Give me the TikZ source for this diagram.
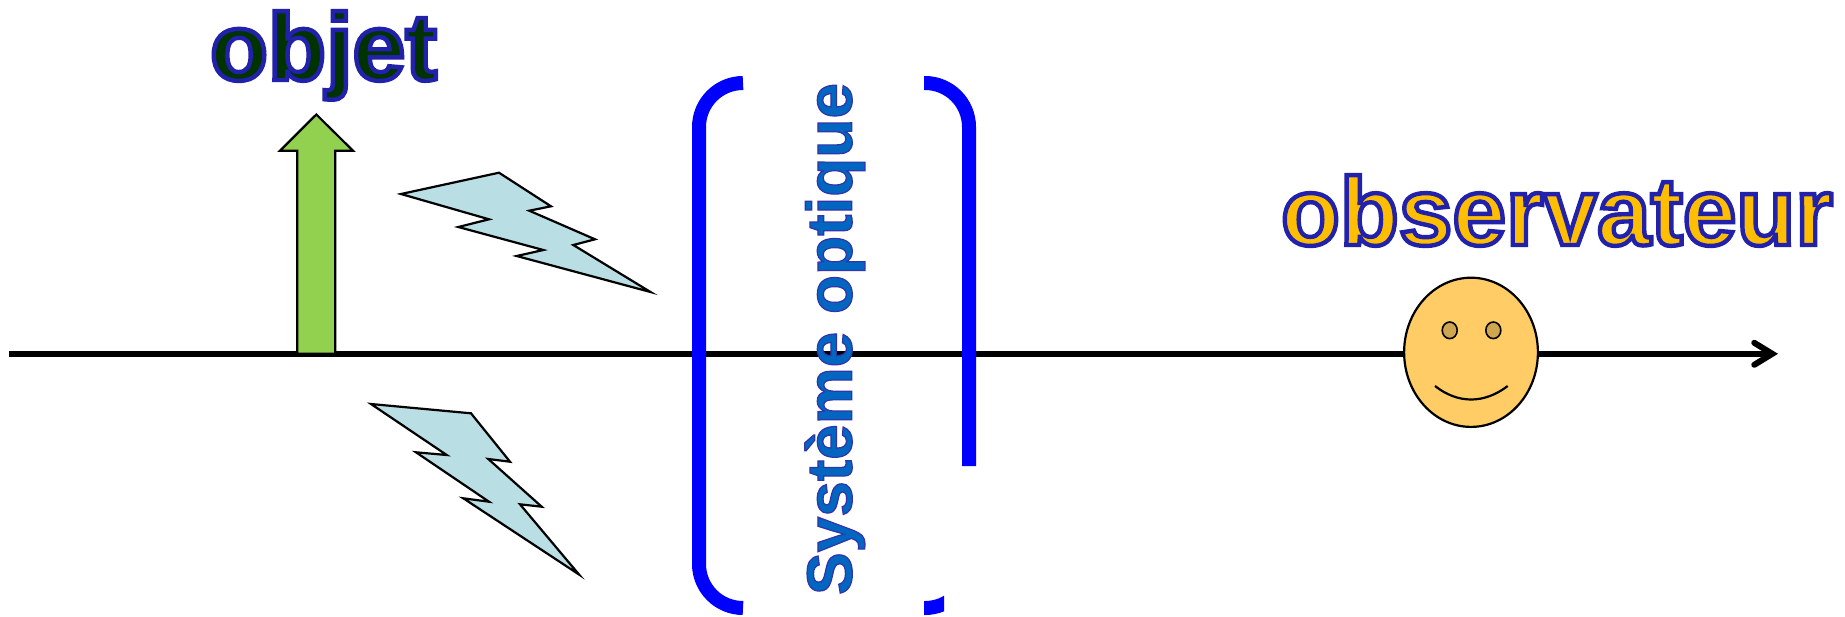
\documentclass[tikz,border=0pt]{standalone}
\usepackage{fontspec}
\setmainfont{Liberation Sans}
\usetikzlibrary{arrows.meta,shapes.geometric}
\newcommand{\outlinetext}[4]{\special{pdf:code q 2 Tr #3 w #1 RG #2 rg}#4\special{pdf:code Q}}
\definecolor{boltfill}{HTML}{B9DFE4}
\definecolor{arrowgreen}{HTML}{92D050}
\definecolor{facefill}{HTML}{FFCC66}
\definecolor{eyefill}{HTML}{CFA650}
\tikzset{
  x=0.5pt,y=-0.5pt,
  bolt/.style={draw=black,fill=boltfill,line width=1.1pt,line join=miter,miter limit=10},
  bracket/.style={draw=blue,line width=7pt,rounded corners=22pt,line cap=butt},
  label/.style={inner sep=0pt,outer sep=0pt,font=\bfseries},
  eye/.style={ellipse,draw=black,fill=eyefill,line width=0.8pt,minimum width=7.5pt,minimum height=8.3pt,inner sep=0pt},
}
\begin{document}
\begin{tikzpicture}
\useasboundingbox (0,0) rectangle (1845,616);
\coordinate (axisstart) at (9,353.8);
\coordinate (axisend) at (1778,353.8);
\draw[line width=3pt,-{Straight Barb[length=9pt,width=11pt,line width=3pt,line cap=round,line join=miter]}] (axisstart) -- (axisend);
% object arrow
\draw[fill=arrowgreen,draw=black,line width=1.1pt,miter limit=10] (297.3,353.8) -- (297.3,150.7) -- (280,150.7) -- (316.3,114.5) -- (353,150.7) -- (335.3,150.7) -- (335.3,353.8) -- cycle;
% bolts
\draw[bolt] (401,194) -- (499,172.7) -- (551,206.3) -- (529.3,210.7) -- (595,239.3) -- (573.3,245) -- (650.5,292) -- (516.7,256) -- (543.3,250) -- (458.3,227) -- (489,219.3) -- cycle;
\draw[bolt] (371,404) -- (471,413.3) -- (510,461.7) -- (488.3,459) -- (541.7,506.7) -- (520,504.3) -- (579,574.5) -- (463.3,498.3) -- (489,501.7) -- (416,452.3) -- (446.7,455) -- cycle;
% system brackets
\draw[bracket] (743,83) -- (699,83) -- (699,608) -- (743,608);
\draw[bracket] (924,83) -- (969,83) -- (969,466);
\begin{scope}
\clip (900,560) rectangle (944,616);
\draw[bracket] (924,608) -- (969,608) -- (969,530);
\end{scope}
% face
\node[ellipse,draw=black,fill=facefill,line width=1.1pt,minimum width=66.9pt,minimum height=74.6pt,inner sep=0pt] (face) at (1471,352.3) {};
\node[eye] (lefteye) at (1449.7,330.3) {};
\node[eye] (righteye) at (1493.3,330.3) {};
\coordinate (smileleft) at (1435,386);
\coordinate (smileright) at (1507.7,386);
\draw[line width=1.1pt] (smileleft) .. controls (1458,404) and (1484,404) .. (smileright);
% labels
\node[label,anchor=base west,font=\bfseries\fontsize{47.5}{47.5}\selectfont] (objet) at (210,80) {\outlinetext{0.13 0.13 0.67}{0 0.2 0}{2.2}{objet}};
\node[label,anchor=base west,font=\bfseries\fontsize{48.2}{48.2}\selectfont] (observateur) at (1281,245) {\outlinetext{0.13 0.13 0.67}{1 0.75 0}{2.2}{observateur}};
\node[label,anchor=base west,rotate=90,font=\bfseries\fontsize{32}{32}\selectfont] (systeme) at (851.7,595) {\outlinetext{0.2 0.2 0.67}{0 0.4 0.75}{0.6}{Système optique}};
\end{tikzpicture}
\end{document}
